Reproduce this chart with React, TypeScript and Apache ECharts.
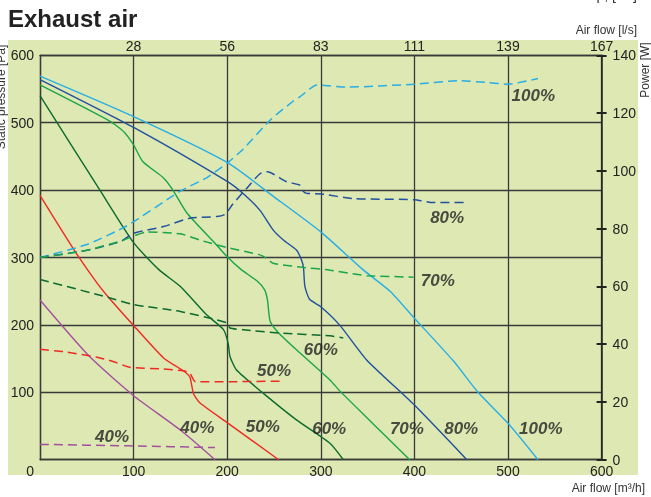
import React, { useEffect, useRef } from 'react';
import * as echarts from 'echarts';

const FONT = "'Liberation Sans', Arial, Helvetica, sans-serif";

// Top axis tick labels (l/s) matching m3/h ticks 0..600
const flowTicksLs = ['', '28', '56', '83', '111', '139', '167'];

// Static pressure curves [m3/h, Pa]
const p100 = [[0, 569], [100, 509], [200, 441], [250, 390], [300, 338], [345, 282], [374, 250], [400, 210], [442, 146], [468, 100], [500, 54], [532, 0]];
const p80 = [[0, 564], [100, 493], [200, 413], [217, 395], [235, 370], [249, 341], [260, 326], [274, 311], [279.5, 296], [281.5, 285], [283, 257], [288, 238], [300, 227], [320, 200], [349, 148], [400, 81], [456, 0]];
const p70 = [[0, 556], [75, 502], [90, 486], [100, 467], [110, 442], [132, 418], [142, 400], [157, 366], [185, 324], [200, 301], [215, 282], [232, 265], [240, 252], [243, 237], [246, 205], [255, 188], [274, 163], [310, 118], [321, 101], [395, 0]];
const p60 = [[0, 540], [64, 400], [100, 322], [127, 282], [150, 257], [178, 215], [196, 193], [201, 173], [203, 153], [210, 133], [239, 98], [274, 59], [310, 24], [324, 0]];
const p50 = [[0, 392], [36, 312], [61, 262], [75, 238], [100, 199], [132, 151], [153, 132], [160, 123], [164, 98], [171, 84], [200, 55], [255, 0]];
const p40 = [[0, 237], [53, 153], [100, 95], [150, 44], [187, 0]];

// Power curves [m3/h, W]
const w100 = [[0, 70], [50, 74.5], [93, 81], [150, 93], [178, 97.6], [200, 102.7], [217, 107.5], [246, 117.6], [270, 124], [278, 125.7], [296, 129.7], [328, 129], [400, 130], [449, 131.2], [477, 130.6], [500, 130], [532, 132]];
const w80 = [[0, 70], [50, 72.5], [86, 75.5], [100, 78.4], [132, 80.7], [160, 83.6], [189, 84.2], [198, 85], [206, 88.5], [221, 94], [235, 99], [243, 99.7], [263, 96.3], [278, 95], [281, 93], [285, 92.2], [300, 92], [335, 90.4], [400, 90], [420, 89], [458, 89]];
const w70 = [[0, 70], [50, 72.5], [89, 76], [114, 78.8], [150, 78.2], [171, 76], [199, 73.5], [235, 70.9], [242, 69.7], [249, 68], [278, 66.7], [310, 65.6], [338, 64.2], [349, 63.7], [399, 63.2]];
const w60 = [[0, 62.4], [75, 56], [100, 53.7], [150, 51.3], [189, 48.4], [200, 47.3], [203, 45.6], [217, 45], [257, 43.8], [310, 42.9], [324, 42.1]];
const w50 = [[0, 38.2], [25, 37.4], [61, 35.5], [78, 34], [96, 32], [132, 31.4], [153, 30.8], [160, 30], [166, 27], [203, 27], [257, 27.2]];
const w40 = [[0, 5.3], [96, 4.8], [187, 4.2]];

// Curve annotations [text, m3/h, Pa]
const curveLabels: [string, number, number][] = [
  ['100%', 527, 540], ['80%', 435, 359], ['70%', 425, 266], ['60%', 300, 164], ['50%', 250, 132], ['40%', 77, 35],
  ['40%', 168, 48], ['50%', 238, 49], ['60%', 309, 46], ['70%', 392, 46], ['80%', 450, 46], ['100%', 535, 46],
];

const C100 = '#27aee6';
const C80 = '#20509f';
const C70 = '#1aa54a';
const C60 = '#0c6a2e';
const C50 = '#ee2a24';
const C40 = '#a3509f';
const GRID = '#3a3a3a';
const TXT = '#222';

const solid = (name: string, data: number[][], color: string) => ({
  type: 'line', name, data, xAxisIndex: 0, yAxisIndex: 0,
  symbol: 'none', smooth: 0.2,
  lineStyle: { color, width: 1.4 }, z: 3,
});
const dashed = (name: string, data: number[][], color: string) => ({
  type: 'line', name, data, xAxisIndex: 0, yAxisIndex: 1,
  symbol: 'none', smooth: 0.2,
  lineStyle: { color, width: 1.5, type: [9, 5] }, z: 3,
});

export default function App() {
  const ref = useRef<HTMLDivElement>(null);
  useEffect(() => {
    const chart = echarts.init(ref.current!, null, { renderer: 'svg' });
    const gridBox = { left: 40, right: 49.4, top: 55.3, bottom: 37.3, containLabel: false };
    const option: any = {
      animation: false,
      textStyle: { fontFamily: FONT },
      grid: [gridBox, { ...gridBox }],
      xAxis: [
        {
          type: 'value', gridIndex: 0, min: 0, max: 600, interval: 100, position: 'bottom',
          axisLine: { show: true, onZero: false, lineStyle: { color: GRID, width: 1.3 } },
          axisTick: { show: false },
          splitLine: { show: true, lineStyle: { color: GRID, width: 1.3 } },
          axisLabel: {
            fontSize: 14, color: TXT, margin: 4, fontFamily: FONT, alignMinLabel: 'right',
            formatter: (v: number, i: number) => (i === 0 ? '{z|' + v + '}' : String(v)),
            rich: { z: { fontSize: 14, color: TXT, fontFamily: FONT, padding: [0, 6, 0, 0] } },
          },
        },
        {
          type: 'value', gridIndex: 0, min: 0, max: 600, interval: 100, position: 'top',
          axisLine: { show: true, onZero: false, lineStyle: { color: GRID, width: 1.3 } },
          axisTick: { show: false },
          splitLine: { show: false },
          axisLabel: {
            fontSize: 14, color: TXT, margin: 2, fontFamily: FONT,
            formatter: (v: number) => flowTicksLs[Math.round(v / 100)] ?? '',
          },
        },
        {
          type: 'value', gridIndex: 1, min: 0, max: 600, show: false,
          axisLine: { show: false, onZero: false },
        },
      ],
      yAxis: [
        {
          type: 'value', gridIndex: 0, min: 0, max: 600, interval: 100, position: 'left',
          axisLine: { show: true, onZero: false, lineStyle: { color: GRID, width: 1.3 } },
          axisTick: { show: false },
          splitLine: { show: true, lineStyle: { color: GRID, width: 1.3 } },
          axisLabel: { fontSize: 14, color: TXT, margin: 6, showMinLabel: false, fontFamily: FONT },
        },
        {
          type: 'value', gridIndex: 0, min: 0, max: 140, interval: 20, position: 'right',
          axisLine: { show: true, onZero: false, lineStyle: { color: TXT, width: 1.5 } },
          axisTick: { show: true, inside: false, length: 5, lineStyle: { color: TXT, width: 2 } },
          splitLine: { show: false },
          axisLabel: { fontSize: 14, color: TXT, margin: 11, fontFamily: FONT },
        },
        {
          type: 'value', gridIndex: 1, min: 0, max: 140, interval: 20, position: 'right',
          axisLine: { show: false, onZero: false },
          axisTick: { show: true, inside: true, length: 5, lineStyle: { color: TXT, width: 2 } },
          splitLine: { show: false },
          axisLabel: { show: false },
        },
      ],
      graphic: [
        { type: 'rect', z: -10, silent: true, shape: { x: 8, y: 40, width: 630, height: 435 }, style: { fill: '#dde8b2' } },
        { type: 'text', x: 8, y: 18, style: { text: 'Exhaust air', font: `bold 24px ${FONT}`, fill: TXT, verticalAlign: 'middle', align: 'left' } },
        { type: 'text', x: 637, y: -5, style: { text: 'p, [Pa]', font: `14px ${FONT}`, fill: '#333', verticalAlign: 'middle', align: 'right' } },
        { type: 'text', x: 637, y: 30, style: { text: 'Air flow [l/s]', font: `12px ${FONT}`, fill: '#333', verticalAlign: 'middle', align: 'right' } },
        { type: 'text', x: 645, y: 488, style: { text: 'Air flow [m³/h]', font: `12px ${FONT}`, fill: '#333', verticalAlign: 'middle', align: 'right' } },
        { type: 'text', x: 644.5, y: 70, rotation: Math.PI / 2, style: { text: 'Power [W]', font: `12px ${FONT}`, fill: '#333', verticalAlign: 'middle', align: 'center' } },
        { type: 'text', x: 1, y: 97, rotation: Math.PI / 2, style: { text: 'Static pressure [Pa]', font: `12px ${FONT}`, fill: '#333', verticalAlign: 'middle', align: 'center' } },
      ],
      series: [
        solid('100%', p100, C100),
        solid('80%', p80, C80),
        solid('70%', p70, C70),
        solid('60%', p60, C60),
        solid('50%', p50, C50),
        solid('40%', p40, C40),
        dashed('100% W', w100, C100),
        dashed('80% W', w80, C80),
        dashed('70% W', w70, C70),
        dashed('60% W', w60, C60),
        dashed('50% W', w50, C50),
        dashed('40% W', w40, C40),
        {
          type: 'scatter', xAxisIndex: 0, yAxisIndex: 0, symbolSize: 0, z: 5,
          itemStyle: { color: 'transparent' },
          data: curveLabels.map(([t, x, y]) => ({ value: [x, y], name: t })),
          label: {
            show: true, position: 'inside', formatter: (p: any) => p.name,
            fontSize: 17, fontWeight: 'bold', fontStyle: 'italic', color: TXT, fontFamily: FONT,
          },
        },
      ],
    };
    chart.setOption(option);
    return () => chart.dispose();
  }, []);
  return <div ref={ref} style={{ position: 'fixed', left: 0, top: 0, width: 651, height: 497 }} />;
}
